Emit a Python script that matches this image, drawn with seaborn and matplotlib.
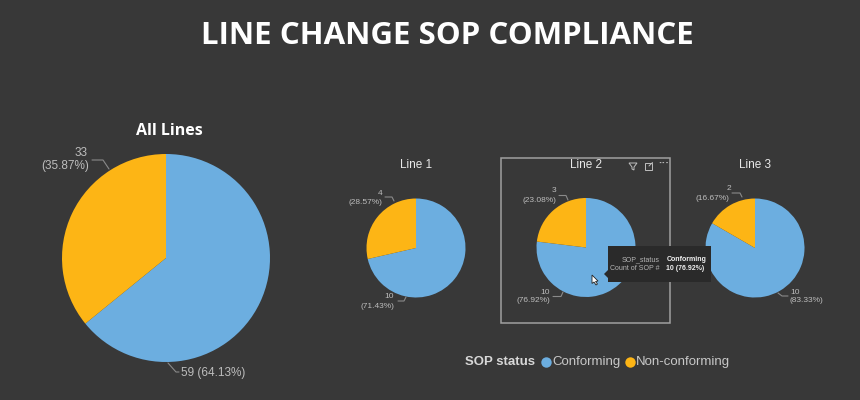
import matplotlib
matplotlib.use("Agg")
import matplotlib.pyplot as plt
from matplotlib.lines import Line2D
from matplotlib.patches import Rectangle, Polygon
import seaborn as sns

panels = ["All Lines", "Line 1", "Line 2", "Line 3"]
conforming = [59, 10, 10, 10]
non_conforming = [33, 4, 3, 2]
conf_pct = ["64.13%", "71.43%", "76.92%", "83.33%"]
nonconf_pct = ["35.87%", "28.57%", "23.08%", "16.67%"]
legend_labels = ["Conforming", "Non-conforming"]
title = "LINE CHANGE SOP COMPLIANCE"

W, H = 860, 400
BG = "#383838"
palette = sns.color_palette(["#6CAEE0", "#FDB515"])
GREY = "#BDBDBD"
LEAD = "#8A8A8A"

sns.set_theme(style="dark", rc={"figure.facecolor": BG, "axes.facecolor": BG,
                                "savefig.facecolor": BG})
plt.rcParams["font.family"] = ["Liberation Sans", "DejaVu Sans"]

fig = plt.figure(figsize=(W / 100, H / 100), dpi=100)

def fx(x): return x / W
def fy(y): return 1 - y / H

def txt(x, y, s, size=8, color=GREY, ha="center", va="center", **kw):
    return fig.text(fx(x), fy(y), s, fontsize=size, color=color, ha=ha, va=va, **kw)

def lead(xs, ys, color=LEAD, lw=0.8):
    fig.add_artist(Line2D([fx(x) for x in xs], [fy(y) for y in ys], color=color, lw=lw))

centers = [(166, 258, 104), (416, 248, 49.5), (586, 247.5, 49.5), (755, 248, 49.5)]
for (cx, cy, r), conf, non in zip(centers, conforming, non_conforming):
    ax = fig.add_axes([fx(cx - r), fy(cy + r), 2 * r / W, 2 * r / H])
    ax.pie([conf, non], colors=palette, startangle=90, counterclock=False, radius=1,
           wedgeprops={"linewidth": 0})
    ax.set_xlim(-1, 1)
    ax.set_ylim(-1, 1)
    ax.set_aspect("auto")
    ax.set_zorder(1)

# Title and panel headings
txt(447, 36, title, size=22.5, color="white", weight="bold", family=["Open Sans", "DejaVu Sans"])
txt(169, 131, panels[0], size=11.5, color="white", weight="bold", family=["Open Sans", "DejaVu Sans"])
txt(416, 165, panels[1], size=8.5, color="#E8E8E8")
txt(586, 165, panels[2], size=8.5, color="#E8E8E8")
txt(755, 165, panels[3], size=8.5, color="#E8E8E8")

# Data labels: All Lines
txt(88, 153, str(non_conforming[0]), size=8.5, ha="right")
txt(89, 166, f"({nonconf_pct[0]})", size=8.5, ha="right")
lead([92, 103, 109], [160, 160, 169])
lead([168, 176, 179], [363, 372, 372])
txt(181, 373, f"{conforming[0]} ({conf_pct[0]})", size=8.5, ha="left")

# Data labels: Line 1
txt(382, 193.5, str(non_conforming[1]), size=6, ha="right")
txt(382, 202, f"({nonconf_pct[1]})", size=6, ha="right")
lead([385, 392, 394], [197, 197, 201])
txt(394, 297, str(conforming[1]), size=6, ha="right")
txt(394, 306, f"({conf_pct[1]})", size=6, ha="right")
lead([398, 404, 406], [301, 301, 297])

# Data labels: Line 2
txt(556, 191, str(non_conforming[2]), size=6, ha="right")
txt(556, 200, f"({nonconf_pct[2]})", size=6, ha="right")
lead([559, 566, 568], [195.5, 195.5, 200])
txt(550, 292, str(conforming[2]), size=6, ha="right")
txt(550, 301, f"({conf_pct[2]})", size=6, ha="right")
lead([553, 561, 563], [296.5, 296.5, 292])

# Data labels: Line 3
txt(731, 189, str(non_conforming[3]), size=6, ha="right")
txt(729, 198, f"({nonconf_pct[3]})", size=6, ha="right")
lead([732, 740, 742], [193, 193, 197])
txt(790, 292, str(conforming[3]), size=6, ha="left")
txt(790, 301, f"({conf_pct[3]})", size=6, ha="left")
lead([778, 782, 788], [293, 296, 296])

# Selection box around Line 2
fig.add_artist(Rectangle((fx(501), fy(323)), 169 / W, 165 / H, transform=fig.transFigure,
                         fill=False, ec="#A0A0A0", lw=1.1, zorder=3))

# Header icons
icon = "#BFBFBF"
fig.add_artist(Polygon([(fx(629), fy(163)), (fx(637), fy(163)), (fx(634), fy(167)),
                        (fx(634), fy(170)), (fx(632), fy(169)), (fx(632), fy(167))],
                       closed=True, fill=False, ec=icon, lw=0.7, transform=fig.transFigure, zorder=4))
fig.add_artist(Rectangle((fx(645), fy(170)), 7 / W, 7 / H, transform=fig.transFigure,
                         fill=False, ec=icon, lw=0.7, zorder=4))
lead([649, 652.5], [166, 162.5], color=icon, lw=0.7)
txt(664, 163.5, "···", size=8, color=icon, weight="bold")

# Tooltip
fig.add_artist(Rectangle((fx(607.5), fy(282)), 103.5 / W, 36 / H, transform=fig.transFigure,
                         fc="#2A2A2A", ec="none", zorder=5))
fig.add_artist(Polygon([(fx(604), fy(274)), (fx(608), fy(270)), (fx(608), fy(278))], closed=True,
                       fc="#2A2A2A", ec="none", transform=fig.transFigure, zorder=5))
txt(660, 259.5, "SOP_status", size=5, color="#B5B5B5", ha="right", zorder=6)
txt(660, 269, "Count of SOP #", size=5, color="#B5B5B5", ha="right", zorder=6)
txt(666.5, 259.5, legend_labels[0], size=5, color="#F0F0F0", ha="left", weight="bold", zorder=6)
txt(666.5, 269, f"{conforming[2]} ({conf_pct[2]})", size=5, color="#F0F0F0", ha="left",
    weight="bold", zorder=6)

# Cursor
cur = [(592, 275), (592, 283.5), (594, 282), (596, 285), (597.5, 284), (595.5, 281.5), (598, 281)]
fig.add_artist(Polygon([(fx(x), fy(y)) for x, y in cur], closed=True, fc="white", ec="#222222",
                       lw=0.6, transform=fig.transFigure, zorder=7))

# Legend
txt(465, 362, "SOP status", size=9.5, color="#D8D8D8", ha="left", weight="bold")
for x, c in zip([545.5, 629.5], palette):
    fig.add_artist(Line2D([fx(x)], [fy(362)], marker="o", ms=7.5, color=c, mec="none", ls=""))
txt(552, 362, legend_labels[0], size=9.5, color="#C8C8C8", ha="left")
txt(636, 362, legend_labels[1], size=9.5, color="#C8C8C8", ha="left")

fig.savefig("out.png", dpi=100)
